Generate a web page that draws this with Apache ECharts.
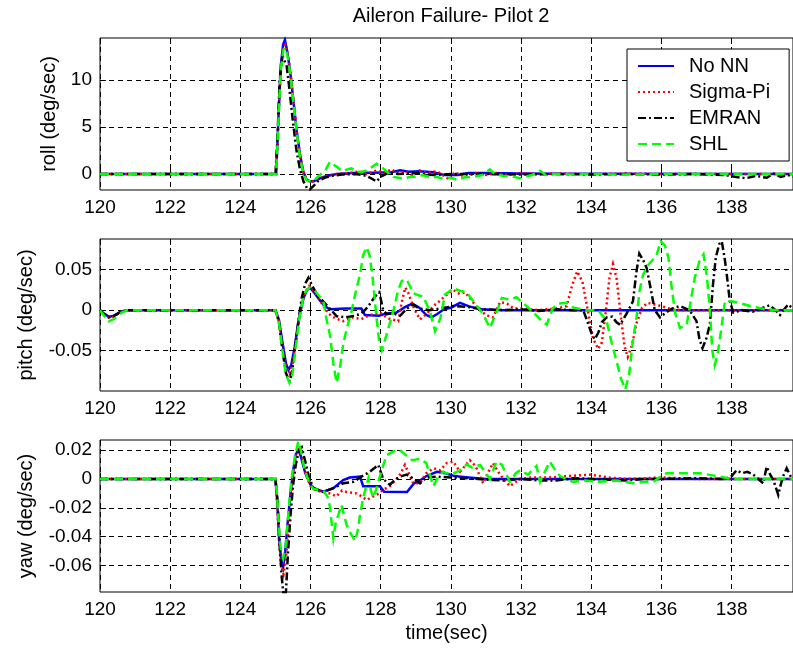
<!DOCTYPE html>
<html>
<head>
<meta charset="utf-8">
<script src="https://cdn.jsdelivr.net/npm/echarts@6/dist/echarts.min.js"></script>
<style>
  html, body { margin: 0; padding: 0; background: #fff; }
  #chart { width: 793px; height: 651px; }
</style>
</head>
<body>
<div id="chart"></div>
<script>
// Time axis and tick labels
const timeTicks = [120, 122, 124, 126, 128, 130, 132, 134, 136, 138];
const timeRange = [120, 139.75];

// Panel value ranges and tick positions
const rollRange = [-1.7, 14.5];
const rollTicks = [0, 5, 10];
const pitchRange = [-0.1, 0.088];
const pitchTicks = [-0.05, 0, 0.05];
const yawRange = [-0.0783, 0.027];
const yawTicks = [-0.06, -0.04, -0.02, 0, 0.02];

const seriesNames = ['No NN', 'Sigma-Pi', 'EMRAN', 'SHL'];

// Roll rate (deg/sec): [time, value]
const rollNoNN = [[120,0],[125.02,0],[125.08,5.5],[125.15,11.5],[125.22,13.8],[125.27,14.3],[125.33,13.2],[125.41,11.2],[125.51,7.9],[125.6,4.7],[125.7,2.1],[125.79,0.3],[125.89,-0.6],[126.0,-0.8],[126.1,-0.75],[126.27,-0.45],[126.46,-0.2],[126.75,0],[127.2,0.1],[127.8,0.15],[128.3,0.2],[128.55,0.4],[128.8,0.25],[129.1,0.3],[129.5,0.2],[129.8,-0.1],[130.2,-0.1],[130.5,0.1],[131,0.1],[132,0.05],[133,0.02],[140,0]];
const rollSigmaPi = [[120,0],[125.02,0],[125.08,5.2],[125.15,11.2],[125.22,13.5],[125.28,13.8],[125.35,12.8],[125.43,10.8],[125.52,7.6],[125.61,4.5],[125.7,2.0],[125.8,0.2],[125.9,-0.7],[126.02,-0.85],[126.15,-0.7],[126.3,-0.4],[126.5,-0.15],[126.8,0.05],[127.1,0.1],[127.4,0.3],[127.6,0.0],[127.9,0.4],[128.1,0.1],[128.3,0.5],[128.5,0.1],[128.7,0.3],[128.9,-0.1],[129.1,0.4],[129.3,0.1],[129.6,0.3],[129.97,-0.6],[130.1,0.2],[130.4,-0.3],[130.7,0.1],[131.0,-0.1],[131.3,0.1],[131.6,-0.1],[132,0.1],[132.5,0],[133,0.05],[134,0],[135,0.05],[136,0],[140,0]];
const rollEMRAN = [[120,0],[125.0,0],[125.06,4],[125.12,10],[125.2,12.6],[125.25,12.8],[125.32,11.5],[125.4,9],[125.5,5.5],[125.6,2.5],[125.7,0.5],[125.8,-0.8],[125.9,-1.5],[125.98,-1.65],[126.08,-1.3],[126.2,-0.8],[126.4,-0.4],[126.6,-0.2],[126.9,-0.05],[127.3,0],[127.6,-0.2],[127.75,-0.5],[127.88,-0.8],[128.0,-0.3],[128.2,0.1],[128.5,0],[129,0.1],[129.5,-0.1],[130,0],[131,0],[132,-0.05],[133,0],[134,-0.05],[135,0],[136,-0.05],[137,0],[137.8,-0.1],[138.1,-0.3],[138.4,-0.45],[138.7,-0.2],[139.0,-0.4],[139.2,0.05],[139.4,-0.3],[139.6,-0.1],[139.8,-0.3]];
const rollSHL = [[120,0],[125.02,0],[125.08,5.2],[125.15,11.0],[125.22,13.2],[125.28,13.5],[125.35,12.5],[125.43,10.5],[125.52,7.4],[125.61,4.3],[125.7,1.8],[125.8,0.0],[125.9,-0.7],[126.02,-0.8],[126.15,-0.5],[126.3,0.0],[126.41,0.3],[126.55,1.3],[126.65,1.0],[126.74,0.8],[126.9,0.3],[127.05,0.5],[127.17,0.6],[127.3,0.3],[127.45,0.2],[127.6,0.4],[127.7,0.6],[127.88,1.1],[128.0,0.8],[128.1,0.5],[128.25,0.0],[128.36,-0.3],[128.5,-0.4],[128.64,-0.5],[128.85,-0.3],[129.02,-0.3],[129.2,-0.1],[129.4,-0.35],[129.6,-0.3],[129.78,-0.5],[130.0,-0.4],[130.17,-0.6],[130.4,-0.35],[130.64,-0.3],[130.9,-0.1],[131.11,0.5],[131.25,0.0],[131.5,-0.2],[131.8,-0.3],[131.97,-0.45],[132.2,-0.2],[132.4,0.0],[132.54,0.35],[132.7,-0.1],[133,0],[133.5,-0.05],[134,0],[135,-0.05],[136,0],[140,0]];

// Pitch rate (deg/sec): [time, value]
const pitchNoNN = [[120,0],[120.1,-0.004],[120.25,-0.008],[120.4,-0.007],[120.55,-0.003],[120.75,0],[125.0,0],[125.1,-0.012],[125.2,-0.04],[125.3,-0.066],[125.37,-0.074],[125.45,-0.068],[125.55,-0.045],[125.65,-0.015],[125.72,0],[125.8,0.015],[125.9,0.025],[125.98,0.028],[126.1,0.022],[126.25,0.013],[126.4,0.005],[126.55,0.001],[127.0,0.002],[127.45,0.002],[127.55,-0.006],[127.95,-0.007],[128.17,-0.004],[128.45,-0.003],[128.7,0.004],[128.9,0.008],[129.1,0.003],[129.3,-0.006],[129.45,-0.009],[129.6,-0.005],[129.8,0.001],[130.0,0.003],[130.26,0.009],[130.5,0.005],[130.83,0.001],[131.5,0],[140,0]];
const pitchSigmaPi = [[120,0],[120.1,-0.005],[120.25,-0.009],[120.4,-0.008],[120.55,-0.003],[120.75,0],[125.0,0],[125.1,-0.014],[125.2,-0.045],[125.3,-0.07],[125.4,-0.078],[125.48,-0.068],[125.58,-0.04],[125.68,-0.01],[125.75,0.008],[125.85,0.022],[125.96,0.03],[126.1,0.024],[126.3,0.01],[126.5,-0.004],[126.7,-0.01],[126.93,-0.0136],[127.2,-0.009],[127.45,-0.011],[127.7,-0.006],[127.98,-0.003],[128.2,-0.01],[128.5,-0.0136],[128.6,0.01],[128.7,0.028],[128.8,0.02],[128.95,0.002],[129.12,-0.0115],[129.3,-0.005],[129.5,0.005],[129.7,0.012],[129.85,0.018],[130.07,0.025],[130.25,0.02],[130.4,0.022],[130.54,0.015],[130.75,0.003],[131.0,-0.006],[131.2,-0.009],[131.4,0.01],[131.6,0.008],[131.8,0.002],[132.0,0.002],[132.5,0],[133.0,0.002],[133.3,0.005],[133.45,0.03],[133.6,0.048],[133.75,0.035],[133.9,0],[134.05,-0.035],[134.2,-0.048],[134.3,-0.04],[134.42,0],[134.52,0.04],[134.62,0.057],[134.72,0.04],[134.85,-0.01],[134.95,-0.045],[135.04,-0.058],[135.15,-0.045],[135.3,-0.015],[135.45,0.003],[135.6,0.009],[135.8,0.007],[136.0,0.005],[136.3,0.001],[136.6,0],[140,0]];
const pitchEMRAN = [[120,0],[120.1,-0.004],[120.25,-0.009],[120.4,-0.007],[120.55,-0.003],[120.75,0],[125.0,0],[125.1,-0.015],[125.2,-0.05],[125.3,-0.078],[125.4,-0.088],[125.48,-0.075],[125.58,-0.04],[125.68,-0.005],[125.75,0.015],[125.85,0.033],[125.94,0.040],[126.05,0.03],[126.2,0.018],[126.36,0.011],[126.55,0.002],[126.74,-0.0074],[127.0,-0.009],[127.25,-0.007],[127.41,-0.005],[127.55,0.0],[127.65,0.005],[127.84,0.017],[127.96,0.022],[128.07,0.0],[128.17,-0.005],[128.36,-0.004],[128.55,-0.007],[128.75,0.002],[128.93,0.007],[129.1,0.002],[129.4,0],[129.7,0.002],[130.07,0.005],[130.5,0.004],[130.9,0.001],[131.5,0],[132,0.001],[132.5,-0.001],[133,0.001],[133.5,0],[133.77,0],[133.9,-0.015],[134.0,-0.028],[134.1,-0.036],[134.2,-0.028],[134.3,-0.015],[134.44,-0.009],[134.6,-0.008],[134.72,-0.015],[134.82,-0.018],[135.0,-0.005],[135.19,0.011],[135.28,0.045],[135.37,0.07],[135.48,0.062],[135.58,0.052],[135.67,0.032],[135.81,0],[135.96,-0.009],[136.1,-0.004],[136.3,0.002],[136.53,0.005],[136.8,0],[137.0,-0.0136],[137.08,-0.035],[137.17,-0.047],[137.28,-0.035],[137.38,-0.018],[137.47,0.032],[137.55,0.065],[137.65,0.082],[137.72,0.085],[137.8,0.065],[137.86,0.045],[137.95,0.011],[138.05,-0.003],[138.3,0],[138.6,-0.002],[138.9,0.003],[139.09,0.006],[139.25,0],[139.38,-0.006],[139.5,0.001],[139.61,0.007],[139.8,0]];
const pitchSHL = [[120,0],[120.1,-0.006],[120.25,-0.014],[120.4,-0.011],[120.55,-0.005],[120.75,0],[125.0,0],[125.1,-0.015],[125.2,-0.05],[125.3,-0.08],[125.4,-0.09],[125.48,-0.08],[125.58,-0.045],[125.68,-0.01],[125.78,0.012],[125.88,0.025],[125.98,0.028],[126.1,0.025],[126.2,0.02],[126.36,0.012],[126.45,-0.01],[126.55,-0.03],[126.65,-0.065],[126.74,-0.09],[126.85,-0.068],[126.93,-0.042],[127.05,-0.02],[127.17,-0.001],[127.3,0.025],[127.41,0.044],[127.5,0.068],[127.6,0.078],[127.68,0.068],[127.76,0.045],[127.88,-0.009],[127.96,-0.04],[128.03,-0.05],[128.17,-0.03],[128.36,-0.001],[128.5,0.025],[128.6,0.036],[128.74,0.038],[128.93,0.021],[129.1,0.018],[129.21,0.017],[129.4,-0.001],[129.55,-0.026],[129.7,-0.01],[129.83,0.019],[130.07,0.027],[130.25,0.024],[130.45,0.022],[130.64,0.011],[130.92,-0.005],[131.11,-0.022],[131.3,-0.003],[131.45,0.015],[131.68,0.013],[131.87,0.016],[132.16,0.005],[132.4,-0.005],[132.6,-0.014],[132.73,-0.018],[132.9,0.002],[133.05,0.008],[133.3,0.009],[133.5,0.003],[133.87,0],[134.2,0],[134.44,-0.0136],[134.58,-0.04],[134.72,-0.063],[134.85,-0.085],[134.97,-0.098],[135.08,-0.08],[135.18,-0.04],[135.29,-0.009],[135.38,0.025],[135.48,0.044],[135.6,0.055],[135.75,0.062],[135.86,0.068],[135.98,0.085],[136.1,0.08],[136.2,0.065],[136.3,0.025],[136.4,-0.005],[136.53,-0.022],[136.72,-0.018],[136.85,0.015],[136.95,0.04],[137.08,0.06],[137.2,0.069],[137.3,0.04],[137.38,0.0],[137.45,-0.05],[137.52,-0.068],[137.6,-0.055],[137.7,-0.025],[137.81,0.011],[138.0,0.011],[138.3,0.008],[138.62,0.004],[139.0,0.001],[139.3,0],[140,0]];

// Yaw rate (deg/sec): [time, value]
const yawNoNN = [[120,0],[125.0,0],[125.05,-0.015],[125.1,-0.04],[125.16,-0.055],[125.22,-0.061],[125.28,-0.05],[125.35,-0.03],[125.43,-0.01],[125.5,0.005],[125.58,0.017],[125.65,0.02],[125.72,0.016],[125.85,0.004],[126.0,-0.004],[126.1,-0.0064],[126.36,-0.0088],[126.65,-0.0064],[126.93,-0.0007],[127.12,0.001],[127.41,0.0016],[127.5,-0.005],[127.98,-0.005],[128.1,-0.0088],[128.75,-0.009],[128.95,-0.003],[129.12,-0.001],[129.3,0.002],[129.6,0.005],[129.85,0.004],[130.1,0.002],[130.5,0.001],[131,0],[140,0]];
const yawSigmaPi = [[120,0],[125.0,0],[125.05,-0.018],[125.1,-0.043],[125.16,-0.06],[125.23,-0.066],[125.3,-0.055],[125.37,-0.032],[125.45,-0.01],[125.52,0.007],[125.6,0.018],[125.67,0.022],[125.75,0.017],[125.87,0.003],[126.0,-0.005],[126.15,-0.008],[126.36,-0.009],[126.55,-0.01],[126.74,-0.012],[126.9,-0.008],[127.03,-0.009],[127.31,-0.01],[127.45,-0.012],[127.6,-0.0145],[127.79,-0.012],[127.95,-0.01],[128.1,-0.007],[128.26,-0.005],[128.45,0.0],[128.55,0.003],[128.69,0.0097],[128.8,0.004],[128.93,-0.003],[129.12,-0.003],[129.3,0.004],[129.5,0.0074],[129.7,0.006],[129.88,0.011],[130.07,0.012],[130.26,0.005],[130.4,0.009],[130.54,0.013],[130.7,0.009],[130.92,-0.003],[131.05,0.004],[131.2,0.011],[131.4,0.003],[131.68,-0.005],[131.97,0],[132.3,0.001],[132.8,0.001],[133.3,0.002],[133.97,0.003],[134.5,0.001],[135,0],[136,0.001],[137,0],[140,0]];
const yawEMRAN = [[120,0],[125.0,0],[125.06,-0.015],[125.12,-0.045],[125.18,-0.068],[125.25,-0.085],[125.3,-0.078],[125.36,-0.05],[125.43,-0.025],[125.5,-0.005],[125.58,0.01],[125.67,0.02],[125.75,0.022],[125.85,0.012],[125.95,0.002],[126.08,-0.0064],[126.36,-0.009],[126.65,-0.0064],[126.93,-0.003],[127.22,-0.002],[127.45,0.0016],[127.69,0.005],[127.93,0.0097],[128.07,0],[128.26,-0.004],[128.4,-0.0007],[128.55,0.0016],[128.74,0.003],[128.95,0],[129.12,-0.003],[129.3,0.001],[129.6,0.0016],[130,0.001],[130.5,0.0005],[131,-0.0005],[131.5,-0.001],[132,0],[132.5,-0.001],[133,-0.001],[133.5,0.0005],[134,0],[134.5,-0.0005],[135,-0.001],[135.5,0],[136,0],[137,0.0005],[137.8,0.0],[138.0,0.002],[138.14,0.006],[138.3,0.004],[138.45,0.005],[138.62,0.003],[138.9,-0.003],[139.0,0.0085],[139.1,0.003],[139.19,-0.0007],[139.33,-0.011],[139.4,-0.004],[139.47,0.002],[139.57,0.0074],[139.7,0.001],[139.8,0]];
const yawSHL = [[120,0],[125.0,0],[125.05,-0.012],[125.1,-0.035],[125.16,-0.05],[125.22,-0.055],[125.3,-0.045],[125.38,-0.02],[125.46,0.0],[125.55,0.015],[125.65,0.026],[125.72,0.02],[125.82,0.008],[125.95,-0.002],[126.08,-0.007],[126.36,-0.008],[126.48,-0.012],[126.55,-0.019],[126.65,-0.041],[126.72,-0.03],[126.79,-0.025],[126.88,-0.018],[127.03,-0.032],[127.15,-0.038],[127.27,-0.043],[127.35,-0.035],[127.41,-0.025],[127.5,-0.013],[127.65,0.0005],[127.72,-0.008],[127.79,-0.013],[127.9,-0.005],[127.98,0.002],[128.08,0.01],[128.17,0.0166],[128.36,0.019],[128.55,0.02],[128.74,0.016],[128.9,0.013],[129.12,0.014],[129.3,0.011],[129.5,-0.005],[129.65,0.002],[129.78,0.005],[130.0,0.003],[130.26,0.006],[130.45,0.01],[130.6,0.008],[130.83,0.0097],[131.0,0.004],[131.11,0.0],[131.3,0.012],[131.45,0.01],[131.68,-0.002],[131.85,0.004],[131.97,0.006],[132.2,0.003],[132.44,0.009],[132.54,-0.002],[132.7,0.006],[132.82,0.012],[133.0,0.005],[133.11,0.002],[133.3,0.0],[133.49,-0.002],[133.8,-0.001],[134.2,-0.002],[134.72,-0.001],[135.2,-0.003],[135.5,-0.002],[135.77,-0.002],[136.0,0.002],[136.15,0.004],[136.6,0.004],[137.1,0.004],[137.58,0.002],[138.0,0],[140,0]];

const FONT = "'Liberation Sans', Arial, sans-serif";

const panels = [
  { top: 38,  range: rollRange,  ticks: rollTicks,  name: 'roll (deg/sec)',  gap: 38, data: [rollNoNN, rollSigmaPi, rollEMRAN, rollSHL] },
  { top: 239, range: pitchRange, ticks: pitchTicks, name: 'pitch (deg/sec)', gap: 64, data: [pitchNoNN, pitchSigmaPi, pitchEMRAN, pitchSHL] },
  { top: 440, range: yawRange,   ticks: yawTicks,   name: 'yaw (deg/sec)',   gap: 64, data: [yawNoNN, yawSigmaPi, yawEMRAN, yawSHL] }
];

const lineStyles = [
  { color: '#0000ff', width: 2.5, type: 'solid' },
  { color: '#ff0000', width: 2.5, type: [2, 3] },
  { color: '#000000', width: 2.5, type: [8, 3, 2, 3] },
  { color: '#00ff00', width: 2.5, type: [9, 5] }
];

const dashed = { color: '#000', width: 1, type: [5, 4] };

const grids = panels.map(p => ({
  left: 100, right: -1, top: p.top, height: 152,
  show: true, borderColor: '#000', borderWidth: 1, backgroundColor: '#fff'
}));

const xAxes = [];
panels.forEach((p, i) => {
  xAxes.push({
    type: 'value', gridIndex: i, min: timeRange[0], max: timeRange[1],
    axisLine: { show: false },
    axisTick: { show: true, inside: true, length: 6, customValues: timeTicks, lineStyle: { color: '#000' } },
    axisLabel: { show: true, customValues: timeTicks, margin: 8, color: '#000', fontSize: 19, fontFamily: FONT },
    splitLine: { show: true, lineStyle: dashed },
    name: i === 2 ? 'time(sec)' : '', nameLocation: 'middle', nameGap: 31,
    nameTextStyle: { color: '#000', fontSize: 20, fontFamily: FONT }
  });
});
panels.forEach((p, i) => {
  xAxes.push({
    type: 'value', gridIndex: i, position: 'top', min: timeRange[0], max: timeRange[1],
    axisLine: { show: false },
    axisTick: { show: true, inside: true, length: 6, customValues: timeTicks, lineStyle: { color: '#000' } },
    axisLabel: { show: false },
    splitLine: { show: false }
  });
});

const yAxes = panels.map((p, i) => ({
  type: 'value', gridIndex: i, min: p.range[0], max: p.range[1],
  axisLine: { show: false },
  axisTick: { show: true, inside: true, length: 6, customValues: p.ticks, lineStyle: { color: '#000' } },
  axisLabel: { show: true, customValues: p.ticks, margin: 8, color: '#000', fontSize: 19, fontFamily: FONT },
  splitLine: { show: true, lineStyle: dashed },
  name: p.name, nameLocation: 'middle', nameGap: p.gap,
  nameTextStyle: { color: '#000', fontSize: 20, fontFamily: FONT }
}));

const series = [];
panels.forEach((p, i) => {
  p.data.forEach((d, k) => {
    series.push({
      name: seriesNames[k], type: 'line', xAxisIndex: i, yAxisIndex: i,
      data: d, symbol: 'none', showSymbol: false, silent: true,
      lineStyle: Object.assign({ cap: 'butt', join: 'miter' }, lineStyles[k]),
      itemStyle: { color: lineStyles[k].color },
      z: 3 + k
    });
  });
});

const chart = echarts.init(document.getElementById('chart'), null, { renderer: 'canvas' });
chart.setOption({
  backgroundColor: '#fff',
  animation: false,
  title: {
    text: 'Aileron Failure- Pilot 2', left: 446, top: 1, textAlign: 'center',
    textStyle: { color: '#000', fontSize: 20, fontWeight: 'normal', fontFamily: FONT }
  },
  legend: {
    data: seriesNames, orient: 'vertical', left: 627, top: 49,
    padding: [7, 19, 7, 10], itemGap: 6, itemWidth: 36, itemHeight: 20,
    backgroundColor: '#fff', borderColor: '#000', borderWidth: 1, borderRadius: 0,
    itemStyle: { opacity: 0 },
    textStyle: { color: '#000', fontSize: 20, fontFamily: FONT, padding: [0, 0, 0, 10] },
    z: 20
  },
  grid: grids,
  xAxis: xAxes,
  yAxis: yAxes,
  series: series
});
</script>
</body>
</html>
